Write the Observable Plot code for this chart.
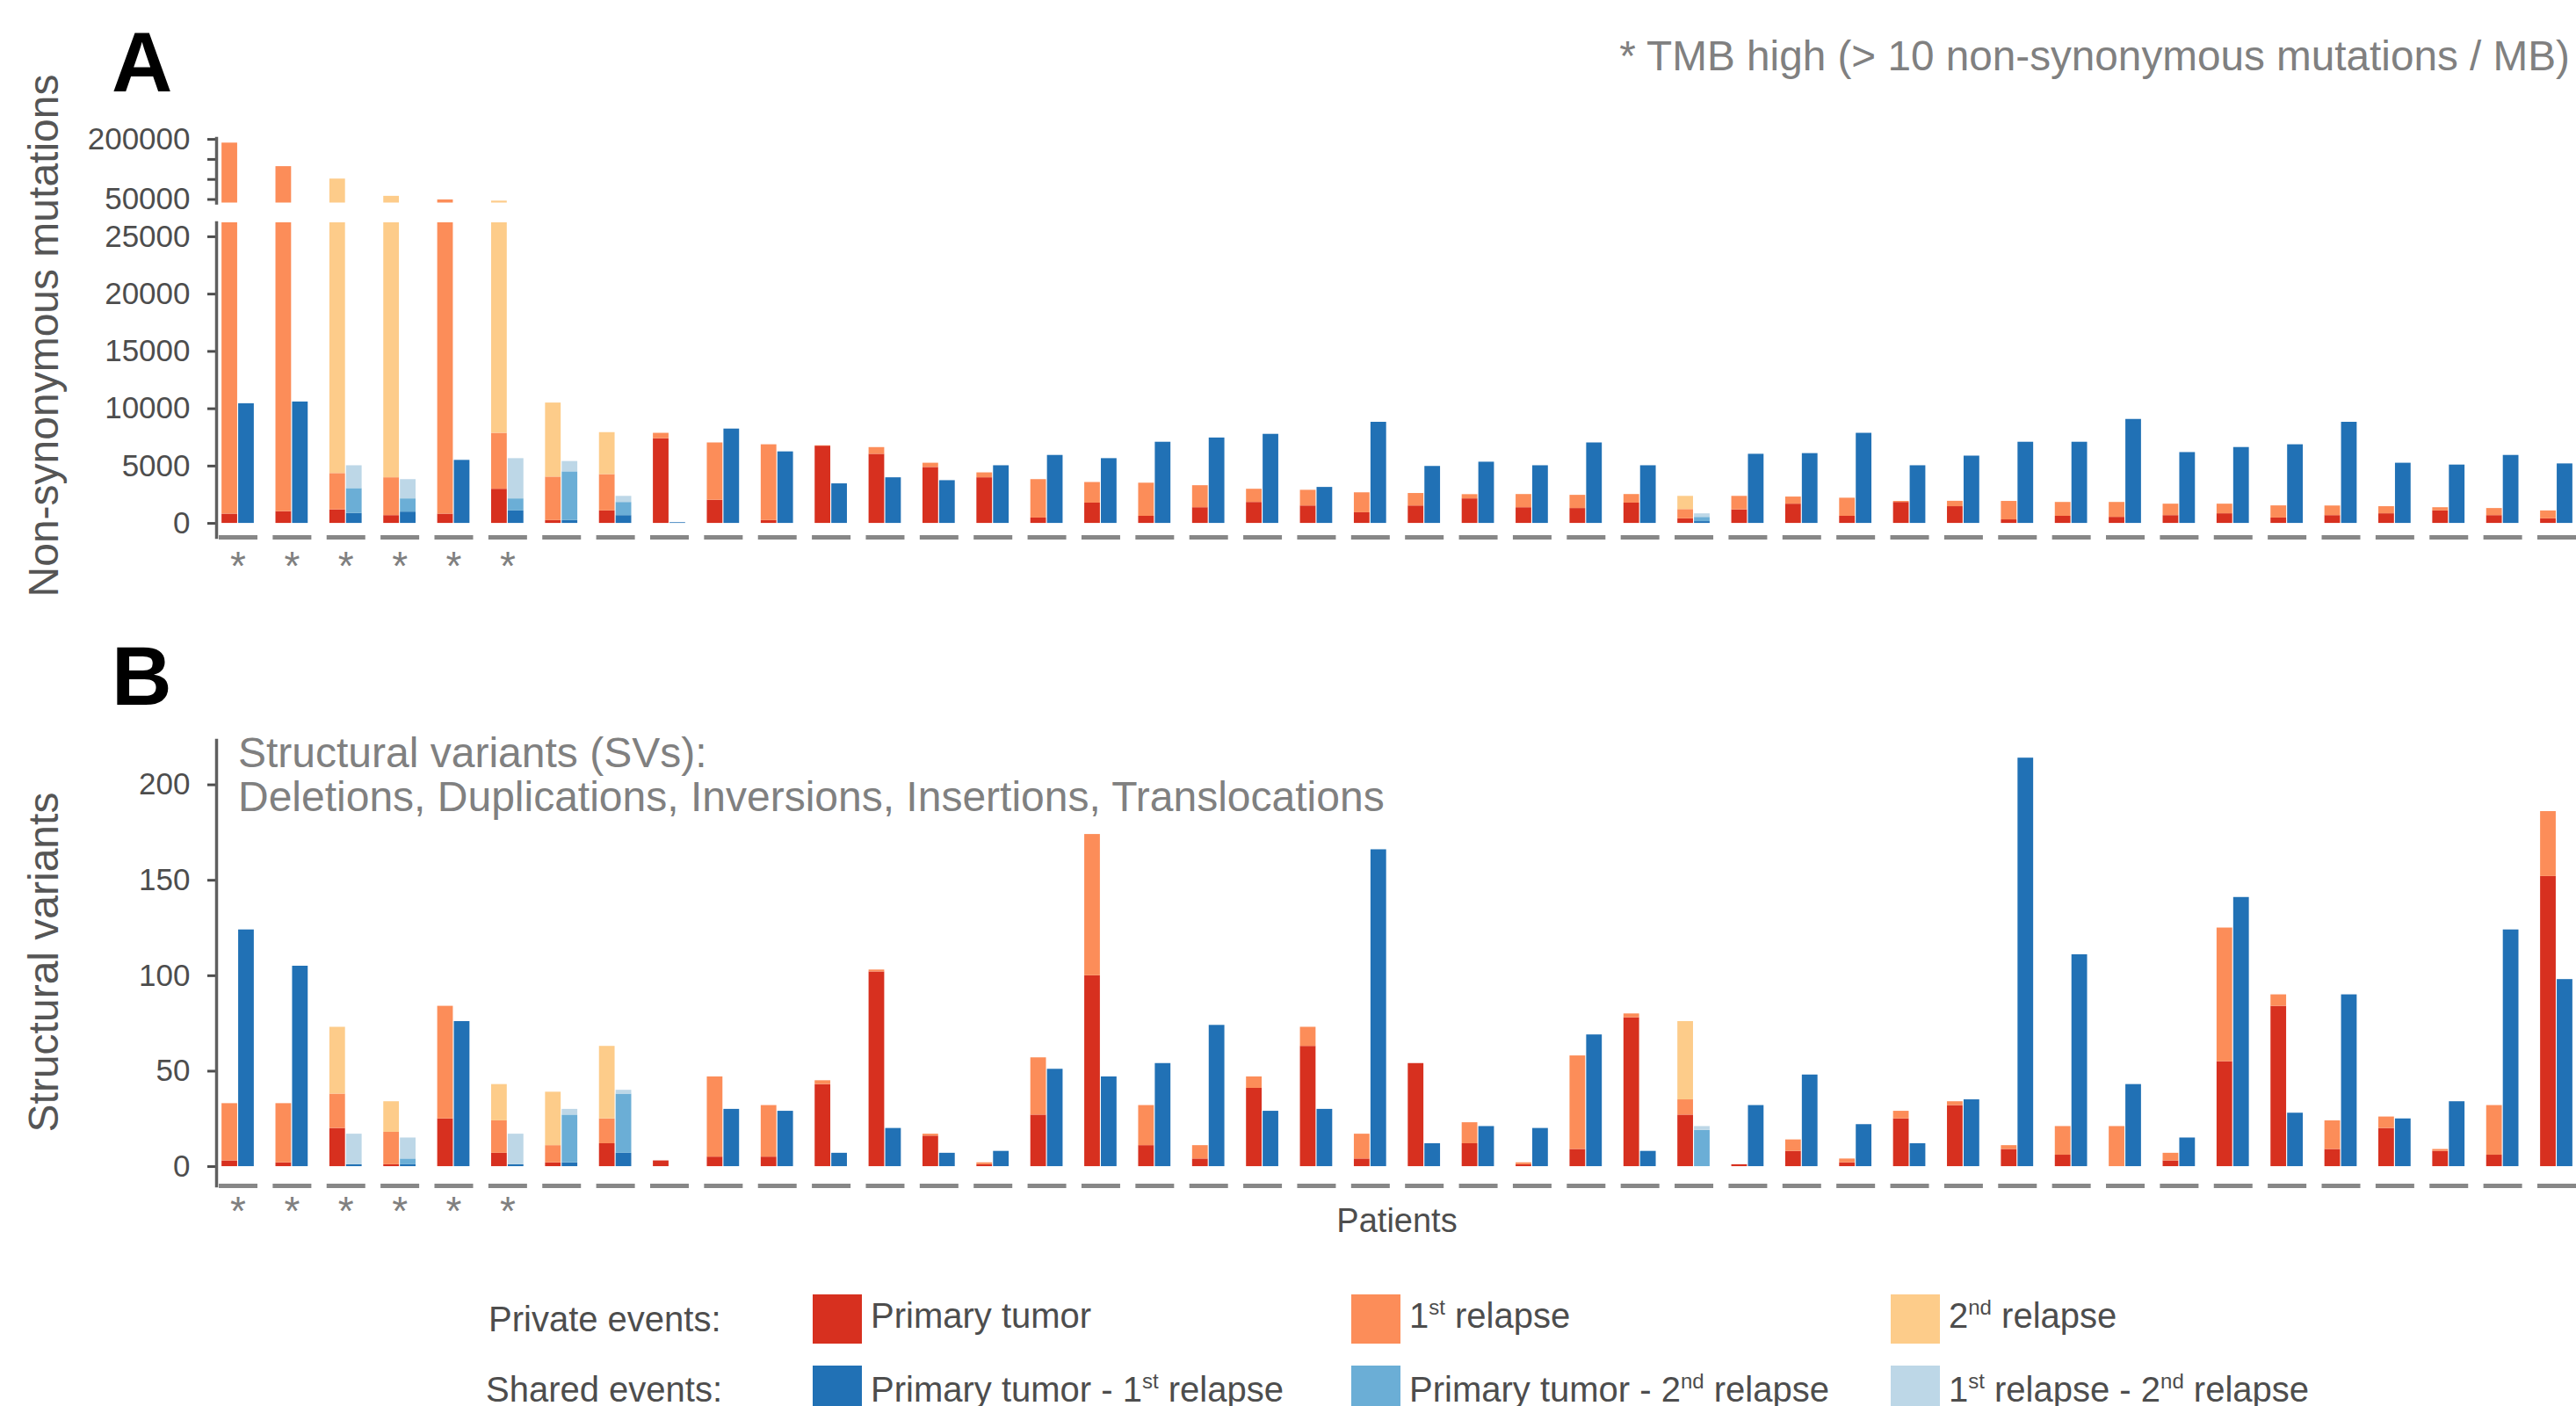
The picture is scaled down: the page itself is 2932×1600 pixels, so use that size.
<!DOCTYPE html>
<html>
<head>
<meta charset="utf-8">
<script src="https://cdn.jsdelivr.net/npm/d3@7"></script>
<script src="https://cdn.jsdelivr.net/npm/@observablehq/plot@0.6"></script>
<style>
html, body { margin: 0; padding: 0; background: #fff; overflow: hidden; }
#root { position: relative; width: 2932px; height: 1600px; font-family: "Liberation Sans", Arial, Helvetica, sans-serif; }
.abs { position: absolute; white-space: nowrap; line-height: 1; }
.chart { position: absolute; left: 0; }
.sup { font-size: 0.6em; position: relative; top: -0.62em; line-height: 0; }
.sw { position: absolute; width: 56px; height: 56px; }
</style>
</head>
<body>
<div id="root"></div>
<script>
// ---------- categories ----------
const patients = ["P01","P02","P03","P04","P05","P06","P07","P08","P09","P10","P11","P12","P13","P14","P15","P16","P17","P18","P19","P20","P21","P22","P23","P24","P25","P26","P27","P28","P29","P30","P31","P32","P33","P34","P35","P36","P37","P38","P39","P40","P41","P42","P43","P44"];
const tmbHigh = [1,1,1,1,1,1,0,0,0,0,0,0,0,0,0,0,0,0,0,0,0,0,0,0,0,0,0,0,0,0,0,0,0,0,0,0,0,0,0,0,0,0,0,0];
const eventKeys = ["Primary tumor","1st relapse","2nd relapse","Primary tumor - 1st relapse","Primary tumor - 2nd relapse","1st relapse - 2nd relapse"];
const eventSide = ["private","private","private","shared","shared","shared"];
const eventColors = ["#d7301f","#fc8d59","#fdcc8a","#2171b5","#6baed6","#bdd7e7"];

// ---------- panel A: non-synonymous mutations (segment sizes) ----------
const mutPrimary   = [810,1030,1180,680,810,2980,250,1090,7390,2020,250,6740,6030,4880,3980,470,1770,620,1370,1830,1520,930,1520,2140,1370,1300,1770,400,1180,1680,620,1830,1460,310,620,530,680,840,470,680,840,1090,680,400];
const mutRelapse1  = [190000,131000,3170,3300,48200,4880,3790,3170,470,5000,6610,30,585,370,430,3350,1800,2890,1920,1150,1370,1740,1090,370,1150,1150,750,810,1180,620,1580,90,470,1610,1210,1300,1000,840,1060,840,620,280,620,690];
const mutRelapse2  = [0,0,96700,54000,0,38140,6460,3660,0,0,0,0,0,0,0,0,0,0,0,0,0,0,0,0,0,0,0,1150,0,0,0,0,0,0,0,0,0,0,0,0,0,0,0,0];
const mutSharedPR1 = [10440,10590,870,990,5500,1090,250,680,60,8230,6240,3450,3980,3730,5030,5930,5650,7080,7450,7770,3140,8820,4970,5340,5030,7020,5030,155,6030,6090,7860,5030,5870,7080,7080,9070,6180,6620,6860,8820,5250,5090,5930,5190];
const mutSharedPR2 = [0,0,2170,1150,0,1050,4250,1150,0,0,0,0,0,0,0,0,0,0,0,0,0,0,0,0,0,0,0,370,0,0,0,0,0,0,0,0,0,0,0,0,0,0,0,0];
const mutSharedR1R2= [0,0,1990,1680,0,3510,900,530,0,0,0,0,0,0,0,0,0,0,0,0,0,0,0,0,0,0,0,310,0,0,0,0,0,0,0,0,0,0,0,0,0,0,0,0];
const mutUpperTicks = [50000,100000,150000,200000];
const mutUpperLabels = [50000,200000];
const mutLowerTicks = [0,5000,10000,15000,20000,25000];

// ---------- panel B: structural variants (segment sizes) ----------
const svPrimary   = [3,2,20,1,25,7,2,12,3,5,5,43,102,16,1,27,100,11,4,41,63,4,54,12,1,9,78,27,1,8,2,25,32,9,6,0,3,55,84,9,20,8,6,152];
const svRelapse1  = [30,31,18,17,59,17,9,13,0,42,27,2,1,1,1,30,74,21,7,6,10,13,0,11,1,49,2,8,0,6,2,4,2,2,15,21,4,70,6,15,6,1,26,34];
const svRelapse2  = [0,0,35,16,0,19,28,38,0,0,0,0,0,0,0,0,0,0,0,0,0,0,0,0,0,0,0,41,0,0,0,0,0,0,0,0,0,0,0,0,0,0,0,0];
const svSharedPR1 = [124,105,1,1,76,1,2,7,0,30,29,7,20,7,8,51,47,54,74,29,30,166,12,21,20,69,8,0,32,48,22,12,35,214,111,43,15,141,28,90,25,34,124,98];
const svSharedPR2 = [0,0,0,3,0,0,25,31,0,0,0,0,0,0,0,0,0,0,0,0,0,0,0,0,0,0,0,19,0,0,0,0,0,0,0,0,0,0,0,0,0,0,0,0];
const svSharedR1R2= [0,0,16,11,0,16,3,2,0,0,0,0,0,0,0,0,0,0,0,0,0,0,0,0,0,0,0,2,0,0,0,0,0,0,0,0,0,0,0,0,0,0,0,0];
const svTicks = [0,50,100,150,200];

// ---------- build tidy rows ----------
function makeRows(series) {
  const rows = [];
  patients.forEach((p, i) => eventKeys.forEach((e, k) => rows.push({patient: p, side: eventSide[k], event: e, value: series[k][i]})));
  return rows;
}
const mutRows = makeRows([mutPrimary, mutRelapse1, mutRelapse2, mutSharedPR1, mutSharedPR2, mutSharedR1R2]);
const svRows  = makeRows([svPrimary, svRelapse1, svRelapse2, svSharedPR1, svSharedPR2, svSharedR1R2]);
const starPatients = patients.filter((p, i) => tmbHigh[i]);

const FONT = '"Liberation Sans", Arial, Helvetica, sans-serif';
const root = document.getElementById("root");

function panel({rows, yDomain, ticks, tickFormat, top, height, marginTop, marginBottom, dashes, stars, starDy}) {
  const marks = [
    Plot.barY(rows, {fx: "patient", x: "side", y: "value", fill: "event", order: eventKeys, clip: true}),
    Plot.axisY({ticks, tickFormat, tickSize: 10, tickPadding: 20, dx: -5, fontSize: 35, color: "#4d4d4d", strokeWidth: 3, label: null}),
    Plot.frame({anchor: "left", facetAnchor: "left", dx: -5, stroke: "#5f5f5f", strokeWidth: 3.5})
  ];
  if (dashes) marks.push(Plot.frame({anchor: "bottom", stroke: "#878787", strokeWidth: 5}));
  if (stars) marks.push(Plot.text(starPatients, {fx: d => d, text: () => "*", frameAnchor: "bottom", dy: starDy, fontSize: 46, fill: "#808080"}));
  const svg = Plot.plot({
    width: 2929, height, marginTop, marginBottom, marginLeft: 251, marginRight: 0,
    fx: {domain: patients, paddingInner: 0.3644, paddingOuter: 0, round: false, axis: null, label: null},
    x: {domain: ["private", "shared"], paddingInner: 0.06, paddingOuter: 0.06, round: false, axis: null, label: null},
    y: {domain: yDomain, label: null},
    color: {domain: eventKeys, range: eventColors},
    style: {fontFamily: FONT, background: "none", overflow: "visible", maxWidth: "none"},
    marks
  });
  svg.classList.add("chart");
  svg.style.top = top + "px";
  root.appendChild(svg);
}

function addText(html, x, baseline, fs, color, anchor = "start", weight = 400) {
  const d = document.createElement("div");
  d.className = "abs";
  d.innerHTML = html;
  d.style.fontSize = fs + "px";
  d.style.color = color;
  d.style.fontWeight = weight;
  d.style.top = (baseline - 0.8465 * fs) + "px";
  if (anchor === "end") d.style.right = (2932 - x) + "px";
  else d.style.left = x + "px";
  if (anchor === "middle") d.style.transform = "translateX(-50%)";
  root.appendChild(d);
}
function addVText(txt, cx, cy, fs, color) {
  const d = document.createElement("div");
  d.className = "abs";
  d.textContent = txt;
  d.style.fontSize = fs + "px";
  d.style.color = color;
  d.style.left = cx + "px";
  d.style.top = cy + "px";
  d.style.transform = "translate(-50%, -50%) rotate(-90deg)";
  root.appendChild(d);
}
function addSwatch(x, y, color) {
  const d = document.createElement("div");
  d.className = "sw";
  d.style.left = x + "px"; d.style.top = y + "px"; d.style.background = color;
  root.appendChild(d);
}

try {
  // Panel A (broken axis: upper + lower)
  panel({rows: mutRows, yDomain: [41000, 202400], ticks: mutUpperTicks,
         tickFormat: d => mutUpperLabels.includes(d) ? String(d) : "",
         top: 100, height: 132, marginTop: 57, marginBottom: 1.4, dashes: false, stars: false});
  panel({rows: mutRows, yDomain: [-1220, 26220], ticks: mutLowerTicks, tickFormat: d => String(d),
         top: 232, height: 468, marginTop: 21, marginBottom: 89, dashes: true, stars: true, starDy: 48});
  // Panel B
  panel({rows: svRows, yDomain: [-10.1, 223.3], ticks: svTicks, tickFormat: d => String(d),
         top: 700, height: 720, marginTop: 142, marginBottom: 71, dashes: true, stars: true, starDy: 44});

  // Panel letters and texts
  addText("A", 127, 104, 96, "#000", "start", 700);
  addText("B", 127, 802, 95, "#000", "start", 700);
  addText("* TMB high (&gt; 10 non-synonymous mutations / MB)", 2925, 80, 47.7, "#808080", "end");
  addVText("Non-synonymous mutations", 50.4, 382, 48, "#555");
  addVText("Structural variants", 50.4, 1095, 48, "#555");
  addText("Structural variants (SVs):", 271, 873.5, 48, "#808080");
  addText("Deletions, Duplications, Inversions, Insertions, Translocations", 271, 923.6, 48, "#808080");
  addText("Patients", 1590, 1402.5, 38, "#4d4d4d", "middle");

  // Legend
  addText("Private events:", 556, 1515, 40, "#4d4d4d");
  addText("Shared events:", 553, 1595, 40, "#4d4d4d");
  const legendX = [925, 1538, 2152];
  const legendHtml = [
    "Primary tumor", '1<span class="sup">st</span> relapse', '2<span class="sup">nd</span> relapse',
    'Primary tumor - 1<span class="sup">st</span> relapse', 'Primary tumor - 2<span class="sup">nd</span> relapse',
    '1<span class="sup">st</span> relapse - 2<span class="sup">nd</span> relapse'
  ];
  eventKeys.forEach((e, k) => {
    const col = k % 3, row = Math.floor(k / 3);
    const sy = row === 0 ? 1473 : 1554;
    addSwatch(legendX[col], sy, eventColors[k]);
    addText(legendHtml[k], legendX[col] + 66, row === 0 ? 1511 : 1595, 40, "#4d4d4d");
  });
} catch (err) {
  const pre = document.createElement("pre");
  pre.textContent = String(err && err.stack || err);
  pre.style.cssText = "position:absolute;left:20px;top:20px;color:red;font-size:24px";
  root.appendChild(pre);
}
</script>
</body>
</html>
